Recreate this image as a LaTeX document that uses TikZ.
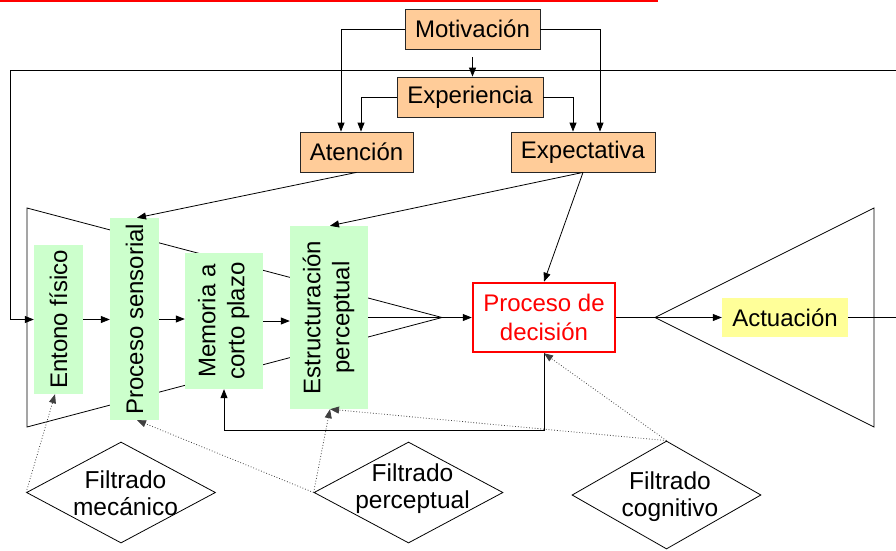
\documentclass[tikz,border=0pt]{standalone}
\usepackage{fontspec}
\usepackage{graphicx}
\setmainfont{Liberation Sans}
\usetikzlibrary{arrows.meta,shapes.geometric,calc}
\definecolor{peach}{HTML}{FFCC99}
\definecolor{mint}{HTML}{CCFFCC}
\definecolor{lemon}{HTML}{FFFF99}
\begin{document}
\begin{tikzpicture}[x=1pt,y=-1pt,
  every node/.style={font=\fontsize{24}{29}\selectfont, inner sep=0pt},
  obox/.style={draw=black!85, fill=peach, line width=0.8pt},
  gbox/.style={fill=mint},
  fdiam/.style={draw=black, diamond, line width=0.8pt},
  ftext/.style={align=center, font=\fontsize{24.5}{27}\selectfont},
  arr/.style={-{Triangle[length=9pt,width=7pt]}, line width=0.8pt},
  dotarr/.style={dotted, line width=0.8pt, draw=black!75, -{Triangle[length=9pt,width=7pt]}},
  ln/.style={line width=0.8pt}]

\useasboundingbox (0,0) rectangle (896,550);
\fill[red] (0,0) rectangle (658,2);

% funnels
\coordinate (fl1) at (27,208); \coordinate (apL) at (442,317.5); \coordinate (fl2) at (27,427);
\draw[ln] (fl1) -- (apL) -- (fl2) -- cycle;
\coordinate (apR) at (655,317.5); \coordinate (fr1) at (874,208); \coordinate (fr2) at (874,427);
\draw[ln] (apR) -- (fr1) -- (fr2) -- cycle;

% top boxes
\node[obox, minimum width=135pt, minimum height=40pt] (motiv) at (472.5,29) {Motivación};
\node[obox, minimum width=146pt, minimum height=40pt] (exper) at (470,97) {Experiencia};
\node[obox, minimum width=113pt, minimum height=40pt] (aten) at (356.5,152) {Atención};
\node[obox, minimum width=144pt, minimum height=40pt] (expec) at (583,152) {Expectativa};

% green boxes
\node[gbox, minimum width=49pt, minimum height=149pt] (ent) at (58.5,319.5) {\rotatebox{90}{Entono físico}};
\node[gbox, minimum width=49pt, minimum height=202pt] (sens) at (134.5,319) {\rotatebox{90}{Proceso sensorial}};
\node[gbox, minimum width=78pt, minimum height=136pt] (mem) at (224,321) {\rotatebox{90}{\begin{tabular}{@{}c@{}}Memoria a\\corto plazo\end{tabular}}};
\node[gbox, minimum width=78pt, minimum height=183pt] (est) at (329,317.5) {\rotatebox{90}{\begin{tabular}{@{}c@{}}Estructuración\\perceptual\end{tabular}}};

% decision and action
\node[draw=red, line width=2.5pt, fill=white, text=red, align=center, minimum width=142pt, minimum height=69pt] (dec) at (544,317.5) {Proceso de\\decisión};
\node[fill=lemon, minimum width=126pt, minimum height=39pt] (act) at (785,317.5) {Actuación};

% diamonds
\node[fdiam, minimum width=189pt, minimum height=101pt] (mec) at (121,492.5) {};
\node[ftext] (mect) at (125.5,493.5) {Filtrado\\mecánico};
\node[fdiam, minimum width=189pt, minimum height=101pt] (per) at (408.5,492.5) {};
\node[ftext] (pert) at (412.5,489) {Filtrado\\perceptual};
\node[fdiam, minimum width=189pt, minimum height=108pt] (cog) at (666.5,495) {};
\node[ftext] (cogt) at (670,497) {Filtrado\\cognitivo};

% top connectors
\draw[arr] (motiv.west) -| ([xshift=-15.5pt]aten.north);
\draw[arr] (motiv.east) -| ([xshift=17pt]expec.north);
\draw[arr, shorten <=8pt] (motiv.south) -- (motiv.south |- exper.north);
\draw[arr] (exper.west) -| ([xshift=4.5pt]aten.north);
\draw[arr] (exper.east) -| ([xshift=-10pt]expec.north);
\draw[arr] (aten.south) -- ([xshift=2.5pt]sens.north);
\draw[arr] (expec.south) -- ([xshift=1pt]est.north);
\draw[arr] (expec.south) -- (dec.north);

% feedback loop
\coordinate (fbR) at (896,70); \coordinate (fbL) at (10,70);
\draw[arr] (fbR) -- (fbL) |- (ent.west);
\coordinate (fbR2) at (896,317.5);
\draw[ln] (act.east) -- (fbR2);

% main chain
\draw[arr] (ent.east) -- (ent.east -| sens.west);
\draw[arr] (sens.east) -- (sens.east -| mem.west);
\draw[arr] (mem.east) -- (mem.east -| est.west);
\draw[arr] (est.east) -- (dec.west);
\draw[arr] (dec.east) -- (act.west);
\coordinate (loopL) at (224,430);
\draw[arr] (dec.south) |- (loopL) -- (mem.south);

% dotted filters
\draw[dotarr] (mec.west) -- ([xshift=-3.5pt]ent.south);
\draw[dotarr] (per.west) -- ([xshift=2.5pt]sens.south);
\draw[dotarr] (per.west) -- ([xshift=1pt]est.south);
\draw[dotarr] (cog.north) -- ([xshift=1pt]est.south);
\draw[dotarr] (cog.north) -- (dec.south);
\end{tikzpicture}
\end{document}
